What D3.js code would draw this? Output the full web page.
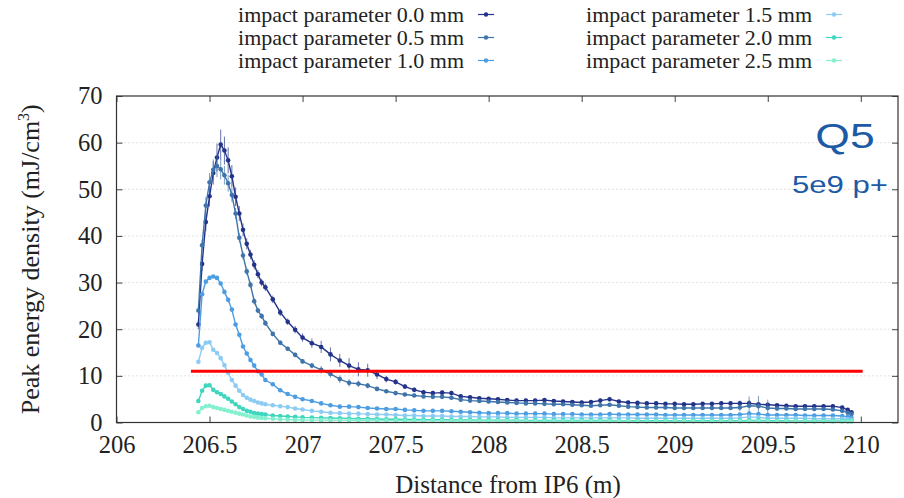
<!DOCTYPE html>
<html>
<head>
<meta charset="utf-8">
<script src="https://cdn.jsdelivr.net/npm/d3@7"></script>
<style>
body { margin: 0; background: #fff; }
svg text { font-family: "Liberation Serif", Tinos, "Times New Roman", Times, "DejaVu Serif", serif; fill: #222; }
</style>
</head>
<body>
<div id="chart"></div>
<script>
// distance from IP6 (m)
var xs = [206.44, 206.46, 206.48, 206.50, 206.52, 206.54, 206.56, 206.58, 206.60, 206.62,
	206.64, 206.66, 206.68, 206.70, 206.72, 206.74, 206.76, 206.78, 206.80,
	206.84, 206.88, 206.92, 206.96, 207.00,
	207.05, 207.10, 207.15, 207.20, 207.25, 207.30, 207.35, 207.40, 207.45, 207.50,
	207.55, 207.60, 207.65, 207.70, 207.75, 207.80, 207.85, 207.90, 207.95, 208.00,
	208.05, 208.10, 208.15, 208.20, 208.25, 208.30, 208.35, 208.40, 208.45, 208.50,
	208.55, 208.60, 208.65, 208.70, 208.75, 208.80, 208.85, 208.90, 208.95, 209.00,
	209.05, 209.10, 209.15, 209.20, 209.25, 209.30, 209.35, 209.40, 209.45, 209.50,
	209.55, 209.60, 209.65, 209.70, 209.75, 209.80, 209.85, 209.90,
	209.93, 209.95];

// peak energy density (mJ/cm3), one list per impact parameter
var ip00 = [21, 34, 43, 48.5, 53.5, 56.8, 59.6, 58.3, 56.2, 52.8, 48.4, 44.8, 41.3, 38.3, 36.0, 33.8, 31.8, 30.0, 29.0,
	26.4, 23.6, 21.6, 19.9, 18.2,
	17.0, 16.2, 14.6, 13.3, 12.2, 11.4, 11.2, 10.3, 9.3, 8.7,
	7.7, 7.0, 6.5, 6.3, 6.4, 6.3, 5.6, 5.4, 5.2, 5.1,
	5.0, 4.8, 4.7, 4.7, 4.7, 4.8, 4.6, 4.5, 4.4, 4.3,
	4.4, 4.7, 5.0, 4.5, 4.3, 4.2, 4.1, 4.1, 4.0, 4.0,
	3.9, 3.9, 4.0, 4.0, 4.1, 4.1, 4.1, 4.1, 3.9, 3.8,
	3.7, 3.6, 3.5, 3.5, 3.5, 3.5, 3.5, 3.2,
	2.7, 2.2];
var ip05 = [24, 38, 46.5, 51.5, 54.2, 55.0, 54.3, 53.0, 51.3, 48.8, 44.8, 39.6, 35.8, 32.4, 29.5, 26.0, 24.0, 22.8, 21.3,
	19.0, 17.1, 15.8, 14.5, 13.1,
	12.2, 11.3, 10.4, 9.3, 8.5, 8.3, 7.9, 7.2, 6.7, 6.3,
	6.0, 5.8, 5.6, 5.5, 5.5, 5.3, 4.9, 4.7, 4.6, 4.5,
	4.4, 4.3, 4.2, 4.1, 4.1, 4.0, 3.9, 3.9, 3.8, 3.7,
	3.6, 3.7, 3.8, 3.6, 3.4, 3.3, 3.2, 3.2, 3.2, 3.1,
	3.1, 3.1, 3.1, 3.1, 3.1, 3.1, 3.2, 3.6, 3.5, 3.1,
	3.0, 3.0, 2.9, 2.9, 2.9, 2.9, 2.8, 2.5,
	2.1, 1.8];
var ip10 = [16.5, 27.5, 30.2, 31.0, 31.3, 31.0, 29.8, 28.0, 26.3, 24.2, 21.0, 18.8, 16.3, 14.8, 13.4, 12.2, 11.0, 10.3, 9.1,
	8.2, 6.9, 6.1, 5.5, 5.0,
	4.6, 4.1, 3.7, 3.4, 3.4, 3.3, 3.1, 3.0, 2.9, 2.9,
	2.7, 2.6, 2.5, 2.5, 2.5, 2.4, 2.3, 2.2, 2.1, 2.0,
	2.0, 2.0, 1.9, 1.9, 1.9, 1.9, 1.8, 1.8, 1.8, 1.7,
	1.7, 1.7, 1.8, 1.7, 1.7, 1.7, 1.7, 1.7, 1.6, 1.6,
	1.6, 1.6, 1.6, 1.6, 1.6, 1.6, 1.7, 1.9, 1.8, 1.6,
	1.6, 1.6, 1.6, 1.5, 1.5, 1.5, 1.5, 1.4,
	1.2, 1.0];
var ip15 = [13.0, 16.0, 17.1, 17.2, 15.6, 14.9, 13.8, 12.3, 10.6, 9.1, 7.9, 6.8, 5.9, 5.3, 4.9, 4.6, 4.3, 4.1, 3.9,
	3.7, 3.5, 3.3, 3.0, 2.8,
	2.5, 2.3, 2.1, 2.0, 1.9, 1.9, 1.8, 1.7, 1.7, 1.6,
	1.5, 1.5, 1.4, 1.4, 1.4, 1.3, 1.3, 1.3, 1.2, 1.2,
	1.2, 1.1, 1.1, 1.1, 1.1, 1.1, 1.0, 1.0, 1.0, 1.0,
	1.0, 1.0, 1.0, 1.0, 1.0, 0.9, 0.9, 0.9, 0.9, 0.9,
	0.9, 0.9, 0.9, 0.9, 0.9, 0.9, 1.0, 1.2, 1.1, 0.9,
	0.9, 0.9, 0.9, 0.9, 0.8, 0.8, 0.8, 0.8,
	0.7, 0.6];
var ip20 = [4.6, 6.8, 7.9, 8.0, 7.0, 6.5, 6.1, 5.6, 5.1, 4.5, 3.9, 3.3, 2.9, 2.5, 2.3, 2.0, 1.9, 1.8, 1.7,
	1.5, 1.4, 1.3, 1.2, 1.1,
	1.05, 1.0, 0.95, 0.9, 0.85, 0.8, 0.8, 0.75, 0.7, 0.7,
	0.65, 0.65, 0.6, 0.6, 0.6, 0.55, 0.55, 0.55, 0.5, 0.5,
	0.5, 0.5, 0.5, 0.45, 0.45, 0.45, 0.45, 0.45, 0.45, 0.45,
	0.45, 0.45, 0.45, 0.4, 0.4, 0.4, 0.4, 0.4, 0.4, 0.4,
	0.4, 0.4, 0.4, 0.4, 0.4, 0.4, 0.4, 0.45, 0.45, 0.4,
	0.4, 0.4, 0.35, 0.35, 0.35, 0.35, 0.35, 0.35,
	0.3, 0.3];
var ip25 = [2.2, 3.1, 3.5, 3.6, 3.3, 3.1, 2.9, 2.7, 2.5, 2.3, 2.1, 1.9, 1.7, 1.5, 1.3, 1.2, 1.05, 0.95, 0.9,
	0.8, 0.7, 0.65, 0.6, 0.55,
	0.52, 0.5, 0.48, 0.46, 0.45, 0.44, 0.43, 0.42, 0.41, 0.4,
	0.38, 0.37, 0.36, 0.35, 0.34, 0.33, 0.32, 0.31, 0.3, 0.3,
	0.3, 0.3, 0.29, 0.29, 0.28, 0.28, 0.28, 0.27, 0.27, 0.27,
	0.27, 0.26, 0.26, 0.26, 0.26, 0.25, 0.25, 0.25, 0.25, 0.25,
	0.25, 0.25, 0.25, 0.25, 0.25, 0.25, 0.25, 0.28, 0.27, 0.25,
	0.24, 0.24, 0.24, 0.23, 0.23, 0.23, 0.22, 0.22,
	0.2, 0.2];

// error bars (half width) read for the two upper curves
var err00 = [1.0, 1.5, 2.0, 2.2, 2.5, 3.0, 3.2, 3.0, 2.8, 2.4, 2.0, 1.6, 1.4, 1.2, 1.0, 1.0, 0.9, 0.8, 0.8,
	0.8, 0.8, 0.7, 0.8, 0.9,
	1.0, 1.3, 1.5, 1.4, 1.6, 1.5, 1.4, 1.0, 0.7, 0.6,
	0.5, 0.5, 0.5, 0.5, 0.5, 0.5, 0.4, 0.4, 0.4, 0.4,
	0.4, 0.4, 0.4, 0.4, 0.4, 0.4, 0.4, 0.4, 0.4, 0.4,
	0.4, 0.4, 0.5, 0.4, 0.4, 0.4, 0.4, 0.4, 0.4, 0.4,
	0.4, 0.4, 0.4, 0.4, 0.4, 0.4, 0.6, 0.7, 0.6, 0.4,
	0.4, 0.4, 0.4, 0.4, 0.4, 0.4, 0.4, 0.4,
	0.4, 0.4];
var err05 = [0.8, 1.2, 1.8, 2.0, 2.2, 2.4, 2.2, 2.0, 1.8, 1.5, 1.2, 1.0, 0.9, 0.8, 0.7, 0.7, 0.6, 0.6, 0.6,
	0.5, 0.5, 0.5, 0.5, 0.5,
	0.6, 0.8, 0.8, 0.8, 0.8, 0.7, 0.6, 0.5, 0.4, 0.4,
	0.35, 0.35, 0.35, 0.35, 0.35, 0.35, 0.35, 0.35, 0.35, 0.35,
	0.35, 0.35, 0.35, 0.35, 0.35, 0.35, 0.35, 0.35, 0.35, 0.35,
	0.35, 0.35, 0.35, 0.35, 0.35, 0.35, 0.35, 0.35, 0.35, 0.35,
	0.35, 0.35, 0.35, 0.35, 0.35, 0.35, 0.8, 2.0, 2.2, 1.8,
	0.6, 0.35, 0.35, 0.35, 0.35, 0.35, 0.35, 0.35,
	0.35, 0.35];

var labels = ['impact parameter 0.0 mm', 'impact parameter 0.5 mm', 'impact parameter 1.0 mm',
	'impact parameter 1.5 mm', 'impact parameter 2.0 mm', 'impact parameter 2.5 mm'];
var colors = ['#23338a', '#3f74aa', '#4c9de2', '#8ccbf4', '#3fd6bf', '#84f0cf'];

var xTicks = [206, 206.5, 207, 207.5, 208, 208.5, 209, 209.5, 210];
var yTicks = [0, 10, 20, 30, 40, 50, 60, 70];

// damage threshold line
var limitLevel = 11;
var limitFrom = 206.4;
var limitTo = 210.01;

var series = [
	{ vals: ip00, err: err00 },
	{ vals: ip05, err: err05 },
	{ vals: ip10, err: null, e: 0.3 },
	{ vals: ip15, err: null, e: 0.2 },
	{ vals: ip20, err: null, e: 0.15 },
	{ vals: ip25, err: null, e: 0.1 }
];

var serif = '"Liberation Serif", Tinos, "Times New Roman", Times, "DejaVu Serif", serif';
var sans = '"Liberation Sans", Arimo, Arial, sans-serif';

var W = 904, H = 498;
var svg = d3.select('#chart').append('svg')
	.attr('width', W)
	.attr('height', H);

var x = d3.scaleLinear().domain([206, 210.2]).range([116.5, 898]);
var y = d3.scaleLinear().domain([0, 70]).range([422.5, 96]);

// dotted grid
svg.append('g').selectAll('line')
	.data(yTicks.slice(1, -1))
	.enter().append('line')
	.attr('x1', x.range()[0]).attr('x2', x.range()[1])
	.attr('y1', function(d){ return y(d); })
	.attr('y2', function(d){ return y(d); })
	.attr('stroke', '#c8c8c8')
	.attr('stroke-width', 1)
	.attr('stroke-dasharray', '1,3');

// axes, ticks pointing in
var gx = svg.append('g')
	.attr('transform', 'translate(0,' + y(0) + ')')
	.call(d3.axisBottom(x).tickValues(xTicks).tickSize(-6).tickPadding(13).tickFormat(d3.format('')));
var gy = svg.append('g')
	.attr('transform', 'translate(' + x(206) + ',0)')
	.call(d3.axisLeft(y).tickValues(yTicks).tickSize(-6).tickPadding(14));
svg.append('g')
	.attr('transform', 'translate(0,' + y(70) + ')')
	.call(d3.axisTop(x).tickValues(xTicks).tickSize(-6).tickFormat(''));
svg.append('g')
	.attr('transform', 'translate(' + x.range()[1] + ',0)')
	.call(d3.axisRight(y).tickValues(yTicks).tickSize(-6).tickFormat(''));

svg.selectAll('.domain').remove();
svg.selectAll('.tick line').attr('stroke', '#444');
svg.selectAll('g').attr('font-family', null);
gx.selectAll('text').style('font-size', '24.5px').style('font-family', serif).attr('fill', '#222');
gy.selectAll('text').style('font-size', '24.5px').style('font-family', serif).attr('fill', '#222');

// curves
var line = d3.line()
	.x(function(d){ return x(d[0]); })
	.y(function(d){ return y(d[1]); });

series.forEach(function(s, k){
	var pts = xs.map(function(xv, i){
		return [xv, s.vals[i], s.err ? s.err[i] : s.e];
	});
	var g = svg.append('g');
	g.selectAll('line')
		.data(pts)
		.enter().append('line')
		.attr('x1', function(d){ return x(d[0]); })
		.attr('x2', function(d){ return x(d[0]); })
		.attr('y1', function(d){ return y(d[1] - d[2]); })
		.attr('y2', function(d){ return y(d[1] + d[2]); })
		.attr('stroke', colors[k])
		.attr('stroke-opacity', 0.7)
		.attr('stroke-width', 1);
	g.append('path')
		.datum(pts)
		.attr('d', line)
		.attr('fill', 'none')
		.attr('stroke', colors[k])
		.attr('stroke-width', 1.4);
	g.selectAll('circle')
		.data(pts)
		.enter().append('circle')
		.attr('cx', function(d){ return x(d[0]); })
		.attr('cy', function(d){ return y(d[1]); })
		.attr('r', 2.3)
		.attr('fill', colors[k]);
});

// red limit line
svg.append('path')
	.datum([[limitFrom, limitLevel], [limitTo, limitLevel]])
	.attr('d', line)
	.attr('stroke', '#ff0000')
	.attr('stroke-width', 3)
	.attr('fill', 'none');

// frame
svg.append('rect')
	.attr('x', x.range()[0]).attr('y', y(70))
	.attr('width', x.range()[1] - x.range()[0])
	.attr('height', y(0) - y(70))
	.attr('fill', 'none')
	.attr('stroke', '#333')
	.attr('stroke-width', 1.2);

// legend, two columns of three
var legX = [464, 812], legY = [14.5, 37.5, 60.5];
var leg = svg.append('g').selectAll('g')
	.data(labels)
	.enter().append('g')
	.attr('transform', function(d, i){
		return 'translate(' + legX[Math.floor(i / 3)] + ',' + legY[i % 3] + ')';
	});
leg.append('text')
	.attr('text-anchor', 'end')
	.attr('dy', '0.35em')
	.attr('transform', 'scale(1.1,1)')
	.style('font-family', serif)
	.style('font-size', '20px')
	.text(function(d){ return d; });
leg.append('line')
	.attr('x1', 14).attr('x2', 30)
	.attr('y1', 0).attr('y2', 0)
	.attr('stroke', function(d, i){ return colors[i]; })
	.attr('stroke-width', 1.2);
leg.append('circle')
	.attr('cx', 22).attr('cy', 0).attr('r', 2.2)
	.attr('fill', function(d, i){ return colors[i]; });

// axis titles
svg.append('text')
	.attr('x', 508)
	.attr('y', 493)
	.attr('text-anchor', 'middle')
	.style('font-family', serif)
	.style('font-size', '25px')
	.text('Distance from IP6 (m)');

var yt = svg.append('text')
	.attr('transform', 'translate(39,' + ((y(0) + y(70)) / 2) + ') rotate(-90)')
	.attr('text-anchor', 'middle')
	.style('font-family', serif)
	.style('font-size', '26px');
yt.append('tspan').text('Peak energy density (mJ/cm');
yt.append('tspan').attr('dy', -10).style('font-size', '16px').text('3');
yt.append('tspan').attr('dy', 10).text(')');

// magnet label
svg.append('text')
	.attr('transform', 'translate(845,148) scale(1.27,1)')
	.attr('text-anchor', 'middle')
	.style('font-family', sans)
	.style('font-size', '35px')
	.style('fill', '#1d5aa6')
	.text('Q5');
svg.append('text')
	.attr('transform', 'translate(840,193) scale(1.27,1)')
	.attr('text-anchor', 'middle')
	.style('font-family', sans)
	.style('font-size', '24.5px')
	.style('fill', '#1d5aa6')
	.text('5e9 p+');
</script>
</body>
</html>
